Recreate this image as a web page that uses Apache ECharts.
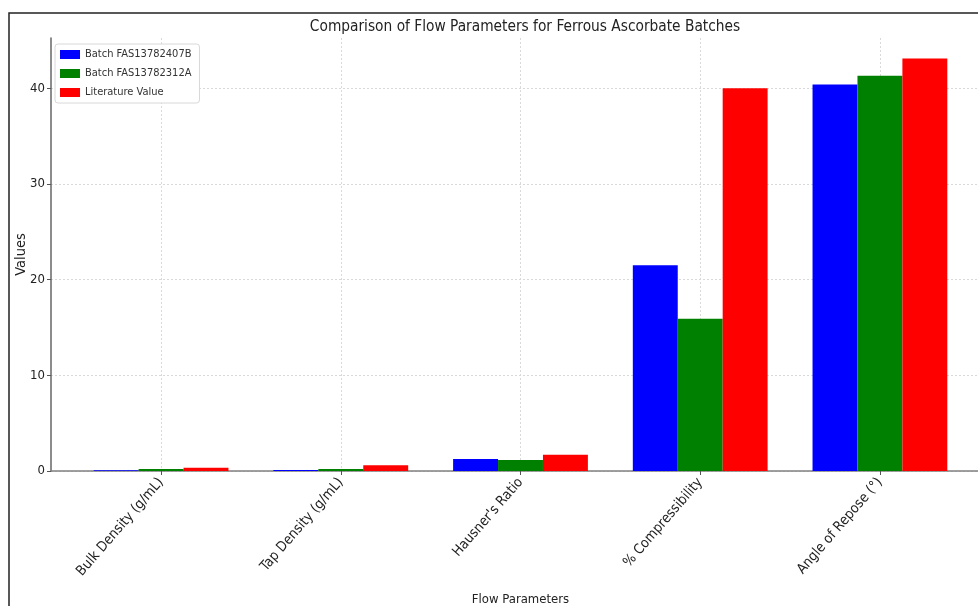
<!DOCTYPE html>
<html>
<head>
<meta charset="utf-8">
<script src="https://cdn.jsdelivr.net/npm/echarts@6/dist/echarts.min.js"></script>
<style>html,body{margin:0;padding:0;background:#fff;}#c{width:978px;height:606px;}</style>
</head>
<body>
<div id="c"></div>
<script>
const categories = ['Bulk Density (g/mL)', 'Tap Density (g/mL)', "Hausner's Ratio", '% Compressibility', 'Angle of Repose (°)'];
const seriesNames = ['Batch FAS13782407B', 'Batch FAS13782312A', 'Literature Value'];
const batchB = [0.08, 0.1, 1.25, 21.5, 40.4];
const batchA = [0.2, 0.22, 1.15, 15.9, 41.3];
const literature = [0.35, 0.6, 1.7, 40, 43.1];
const yTicks = [0, 10, 20, 30, 40];
const colors = ['#0000ff', '#008000', '#ff0000'];

const FONT = "'DejaVu Sans Condensed', 'Liberation Sans Narrow', 'DejaVu Sans', sans-serif";
const catIdx = categories.map((c, i) => i);
const xPad = 0.6125;
const yMax = 45.25;

const chart = echarts.init(document.getElementById('c'), null, {renderer: 'canvas'});
const mk = (name, vals, color) => ({
  name: name,
  type: 'bar',
  barWidth: '25%',
  barGap: '0%',
  itemStyle: {color: color},
  data: vals.map((v, i) => [i, v])
});

chart.setOption({
  animation: false,
  backgroundColor: '#fff',
  textStyle: {fontFamily: FONT},
  title: {
    text: 'Comparison of Flow Parameters for Ferrous Ascorbate Batches',
    left: 520, top: 15, textAlign: 'center',
    textStyle: {fontFamily: FONT, fontSize: 15.3, fontWeight: 'normal', color: '#222'}
  },
  legend: {
    orient: 'vertical', left: 55, top: 44,
    itemWidth: 20, itemHeight: 9, itemGap: 8,
    padding: [5, 8, 5, 5],
    borderColor: '#d8d8d8', borderWidth: 1, borderRadius: 3,
    backgroundColor: '#fff',
    icon: 'rect',
    textStyle: {fontFamily: FONT, fontSize: 11, color: '#333'},
    data: seriesNames
  },
  grid: {left: 51, top: 38, bottom: 135, right: -12, containLabel: false, outerBoundsMode: 'none'},
  xAxis: {
    type: 'value',
    min: -xPad, max: categories.length - 1 + xPad,
    name: 'Flow Parameters', nameLocation: 'middle', nameGap: 122, nameMoveOverlap: false,
    nameTextStyle: {fontFamily: FONT, fontSize: 13, color: '#222'},
    axisLine: {show: true, onZero: false, lineStyle: {color: '#808080', width: 1.5}},
    axisTick: {show: true, customValues: catIdx, length: 4, lineStyle: {color: '#555'}},
    axisLabel: {
      customValues: catIdx, rotate: 49, margin: 9,
      fontFamily: FONT, fontSize: 14, color: '#222',
      formatter: v => categories[Math.round(v)]
    },
    splitLine: {show: true, customValues: catIdx, lineStyle: {color: '#d9d9d9', type: [2, 2], width: 1}}
  },
  yAxis: {
    type: 'value', min: 0, max: yMax,
    name: 'Values', nameLocation: 'middle', nameGap: 22, nameMoveOverlap: false,
    nameTextStyle: {fontFamily: FONT, fontSize: 14.5, color: '#222'},
    axisLine: {show: true, onZero: false, lineStyle: {color: '#666', width: 1.5}},
    axisTick: {show: true, customValues: yTicks, length: 4, lineStyle: {color: '#555'}},
    axisLabel: {customValues: yTicks, margin: 6, fontFamily: FONT, fontSize: 13, color: '#222'},
    splitLine: {show: true, customValues: yTicks, lineStyle: {color: '#d9d9d9', type: [2, 2], width: 1}}
  },
  graphic: [{
    type: 'polyline', silent: true, z: 100,
    shape: {points: [[9, 606], [9, 13], [978, 13]]},
    style: {stroke: '#222', lineWidth: 1.5, fill: null}
  }],
  series: [
    mk(seriesNames[0], batchB, colors[0]),
    mk(seriesNames[1], batchA, colors[1]),
    mk(seriesNames[2], literature, colors[2])
  ]
});
</script>
</body>
</html>
